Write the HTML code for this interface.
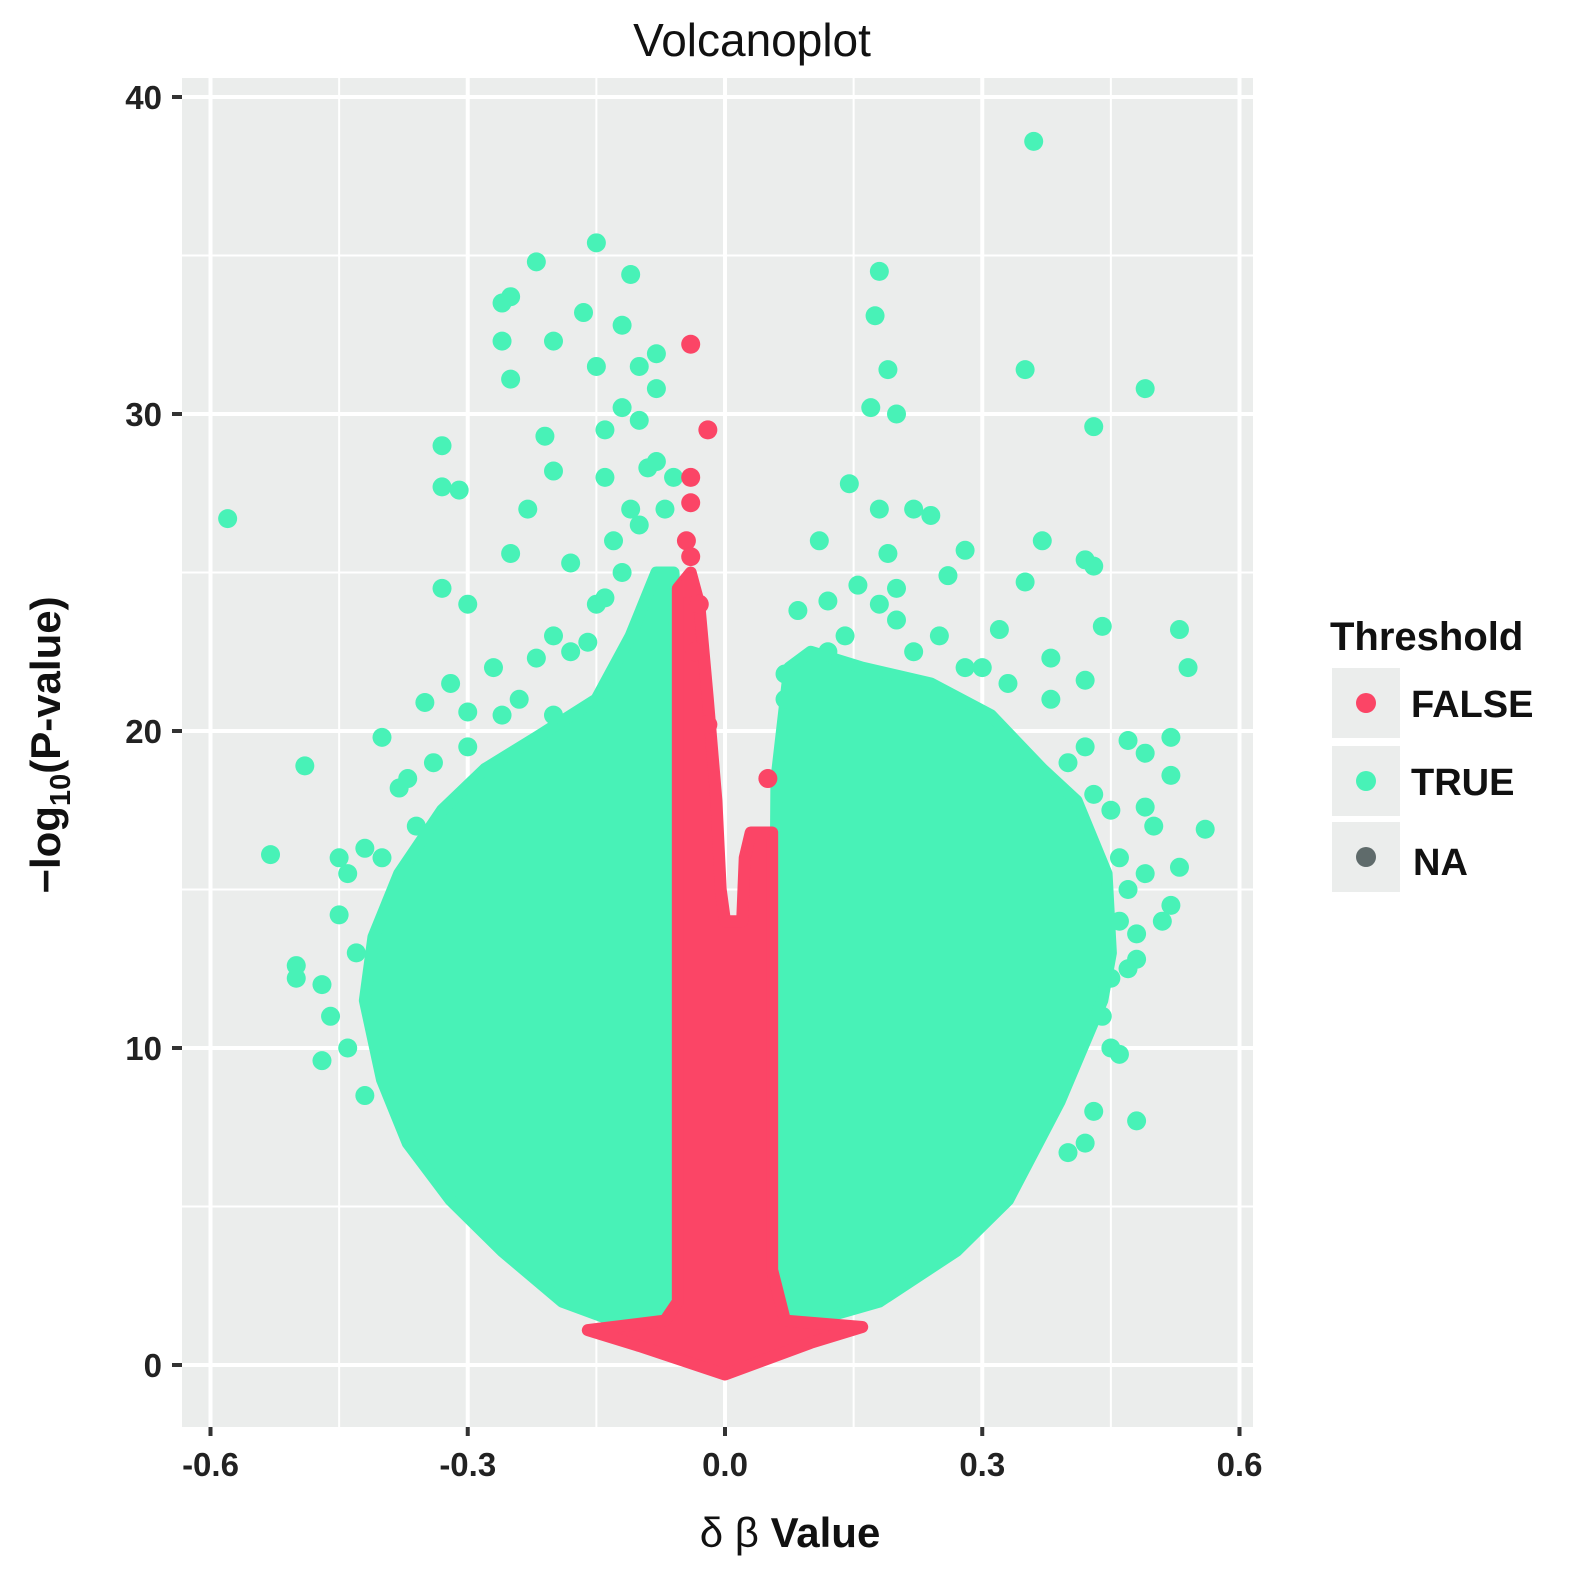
<!DOCTYPE html>
<html><head><meta charset="utf-8"><style>
body{margin:0;background:#fff;}
svg{display:block;font-family:"Liberation Sans",sans-serif;}
</style></head><body>
<svg width="1571" height="1569" viewBox="0 0 1571 1569">
<rect x="182" y="78" width="1071" height="1349" fill="#EBEDEC"/>
<g id="grid"></g>
<g id="marks"></g>
<g id="axes"></g>
<text x="752" y="56" text-anchor="middle" font-size="46" fill="#111">Volcanoplot</text>
<text transform="translate(60,745) rotate(-90)" text-anchor="middle" font-size="42" font-weight="bold" fill="#111">−log<tspan font-size="29" dy="10">10</tspan><tspan dy="-10">(P-value)</tspan></text>
<text x="790" y="1547" text-anchor="middle" font-size="42" font-weight="bold" fill="#111"><tspan font-weight="normal">δ β</tspan>  Value</text>
<g>
<text x="1330" y="650" font-size="40" font-weight="bold" fill="#111">Threshold</text>
<rect x="1332" y="668" width="68" height="70" fill="#EBEDEC"/>
<circle cx="1366" cy="703" r="10" fill="#FB4566"/>
<text x="1411" y="717" font-size="38" font-weight="bold" fill="#111">FALSE</text>
<rect x="1332" y="746" width="68" height="70" fill="#EBEDEC"/>
<circle cx="1366" cy="781" r="10" fill="#48F2B7"/>
<text x="1411" y="795" font-size="38" font-weight="bold" fill="#111">TRUE</text>
<rect x="1332" y="822" width="68" height="70" fill="#EBEDEC"/>
<circle cx="1366" cy="857" r="10" fill="#5F6B6B"/>
<text x="1413" y="875" font-size="38" font-weight="bold" fill="#111">NA</text>
</g>
</svg>
<script>
const xTicks=[-0.6,-0.3,0.0,0.3,0.6];
const xTickLabels=["-0.6","-0.3","0.0","0.3","0.6"];
const xMinor=[-0.45,-0.15,0.15,0.45];
const yTicks=[0,10,20,30,40];
const yTickLabels=["0","10","20","30","40"];
const yMinor=[5,15,25,35];
// envelope of dense TRUE points
const leftLobeX=[-0.07,-0.12,-0.19,-0.26,-0.32,-0.37,-0.40,-0.42,-0.41,-0.38,-0.33,-0.28,-0.22,-0.15,-0.11,-0.08,-0.06,-0.055,-0.055,-0.055];
const leftLobeY=[1.2,1.3,2.0,3.6,5.2,7.0,9.0,11.5,13.5,15.5,17.5,18.8,19.8,21.0,23.0,25.0,25.0,20.0,10.0,1.4];
const rightLobeX=[0.058,0.058,0.058,0.06,0.075,0.10,0.16,0.24,0.31,0.37,0.41,0.445,0.45,0.44,0.39,0.33,0.27,0.18,0.09];
const rightLobeY=[1.3,5.0,12.0,18.5,22.0,22.5,22.0,21.5,20.5,18.8,17.8,15.5,13.0,11.5,8.3,5.2,3.6,2.0,1.3];
const falseX=[-0.16,-0.10,0.0,0.10,0.16,0.07,0.055,0.055,0.055,0.03,0.023,0.02,0.0,-0.005,-0.01,-0.02,-0.03,-0.04,-0.055,-0.055,-0.055,-0.07];
const falseY=[1.1,0.6,-0.3,0.7,1.2,1.4,3.0,10.0,16.8,16.8,16.0,14.0,14.0,15.0,17.8,21.0,24.0,25.0,24.5,10.0,2.0,1.4];
const trueOutX=[-0.58,-0.53,-0.49,-0.5,-0.5,-0.4,-0.33,-0.3,-0.33,-0.31,-0.26,-0.25,-0.25,-0.26,-0.22,-0.15,-0.11,-0.165,-0.2,-0.21,-0.12,-0.08,-0.08,-0.15,-0.12,-0.1,-0.14,-0.2,-0.23,-0.18,-0.25,-0.33,-0.35,-0.32,-0.27,-0.22,-0.3,-0.38,-0.36,-0.42,-0.45,-0.46,-0.47,-0.42,-0.1,-0.07,-0.09,-0.12,-0.14,-0.16,-0.2,-0.45,-0.44,-0.43,-0.47,-0.44,-0.40,-0.37,-0.34,-0.3,-0.26,-0.24,-0.18,-0.2,-0.15,-0.13,-0.11,-0.08,-0.06,-0.1,-0.14,0.36,0.18,0.175,0.19,0.35,0.49,0.17,0.2,0.43,0.145,0.18,0.22,0.24,0.37,0.28,0.11,0.19,0.42,0.43,0.155,0.35,0.26,0.2,0.085,0.12,0.44,0.53,0.54,0.07,0.38,0.42,0.52,0.47,0.49,0.52,0.49,0.56,0.53,0.52,0.51,0.48,0.48,0.45,0.46,0.48,0.42,0.4,0.32,0.25,0.14,0.3,0.43,0.45,0.46,0.47,0.46,0.47,0.44,0.45,0.43,0.38,0.33,0.28,0.22,0.2,0.18,0.12,0.08,0.07,0.4,0.42,0.49,0.5];
const trueOutY=[26.7,16.1,18.9,12.6,12.2,19.8,29,24,27.7,27.6,33.5,33.7,31.1,32.3,34.8,35.4,34.4,33.2,32.3,29.3,32.8,31.9,30.8,31.5,30.2,29.8,29.5,28.2,27,25.3,25.6,24.5,20.9,21.5,22,22.3,20.6,18.2,17,16.3,14.2,11,9.6,8.5,26.5,27,28.3,25,24.2,22.8,20.5,16,15.5,13,12,10,16,18.5,19,19.5,20.5,21,22.5,23,24,26,27,28.5,28,31.5,28,38.6,34.5,33.1,31.4,31.4,30.8,30.2,30,29.6,27.8,27,27,26.8,26,25.7,26,25.6,25.4,25.2,24.6,24.7,24.9,24.5,23.8,24.1,23.3,23.2,22,21.8,22.3,21.6,19.8,19.7,19.3,18.6,17.6,16.9,15.7,14.5,14,13.6,12.8,12.2,9.8,7.7,7,6.7,23.2,23,23,22,18,17.5,16,15,14,12.5,11,10,8,21,21.5,22,22.5,23.5,24,22.5,21.5,21,19,19.5,15.5,17];
const falseOutX=[-0.04,-0.02,-0.04,-0.04,-0.045,0.05,-0.03,-0.035,-0.02,-0.045,-0.04];
const falseOutY=[32.2,29.5,28,27.2,26,18.5,24,22.5,20.2,24.5,25.5];

const NS="http://www.w3.org/2000/svg";
const X0=182,X1=1253,Y0=78,Y1=1427;
function sx(v){return 725+v*857.5;}
function sy(v){return 1365-v*31.7;}
const grid=document.getElementById('grid'),marks=document.getElementById('marks'),axes=document.getElementById('axes');
function line(p,x1,y1,x2,y2,c,w){const l=document.createElementNS(NS,'line');l.setAttribute('x1',x1);l.setAttribute('y1',y1);l.setAttribute('x2',x2);l.setAttribute('y2',y2);l.setAttribute('stroke',c);l.setAttribute('stroke-width',w);p.appendChild(l);return l;}
xMinor.forEach(v=>{const l=line(grid,sx(v),Y0,sx(v),Y1,'#fff',2);

});
yMinor.forEach(v=>{const l=line(grid,X0,sy(v),X1,sy(v),'#fff',2);

});
xTicks.forEach((v,i)=>{const l=line(grid,sx(v),Y0,sx(v),Y1,'#fff',4);


const t=line(axes,sx(v),Y1,sx(v),Y1+9,'#333',4);


const tx=document.createElementNS(NS,'text');tx.setAttribute('x',sx(v));tx.setAttribute('y',1476);tx.setAttribute('text-anchor','middle');tx.setAttribute('font-size','33');tx.setAttribute('font-weight','bold');tx.setAttribute('fill','#222');tx.textContent=xTickLabels[i];


axes.appendChild(tx);});
yTicks.forEach((v,i)=>{const l=line(grid,X0,sy(v),X1,sy(v),'#fff',4);


const t=line(axes,X0-10,sy(v),X0,sy(v),'#333',4);


const tx=document.createElementNS(NS,'text');tx.setAttribute('x',162);tx.setAttribute('y',sy(v)+12);tx.setAttribute('text-anchor','end');tx.setAttribute('font-size','33');tx.setAttribute('font-weight','bold');tx.setAttribute('fill','#222');tx.textContent=yTickLabels[i];


axes.appendChild(tx);});
function poly(xs,ys,fill){const p=document.createElementNS(NS,'polygon');p.setAttribute('points',xs.map((x,i)=>sx(x)+','+sy(ys[i])).join(' '));p.setAttribute('fill',fill);p.setAttribute('stroke',fill);p.setAttribute('stroke-width','12');p.setAttribute('stroke-linejoin','round');marks.appendChild(p);return p;}
const gl=poly(leftLobeX,leftLobeY,'#48F2B7');


const gr=poly(rightLobeX,rightLobeY,'#48F2B7');


function dots(xs,ys,fill,name){xs.forEach((x,i)=>{const c=document.createElementNS(NS,'circle');c.setAttribute('cx',sx(x));c.setAttribute('cy',sy(ys[i]));c.setAttribute('r',9.5);c.setAttribute('fill',fill);


marks.appendChild(c);});}
dots(trueOutX,trueOutY,'#48F2B7','true-point');
const rd=poly(falseX,falseY,'#FB4566');


dots(falseOutX,falseOutY,'#FB4566','false-point');
</script>
</body></html>
